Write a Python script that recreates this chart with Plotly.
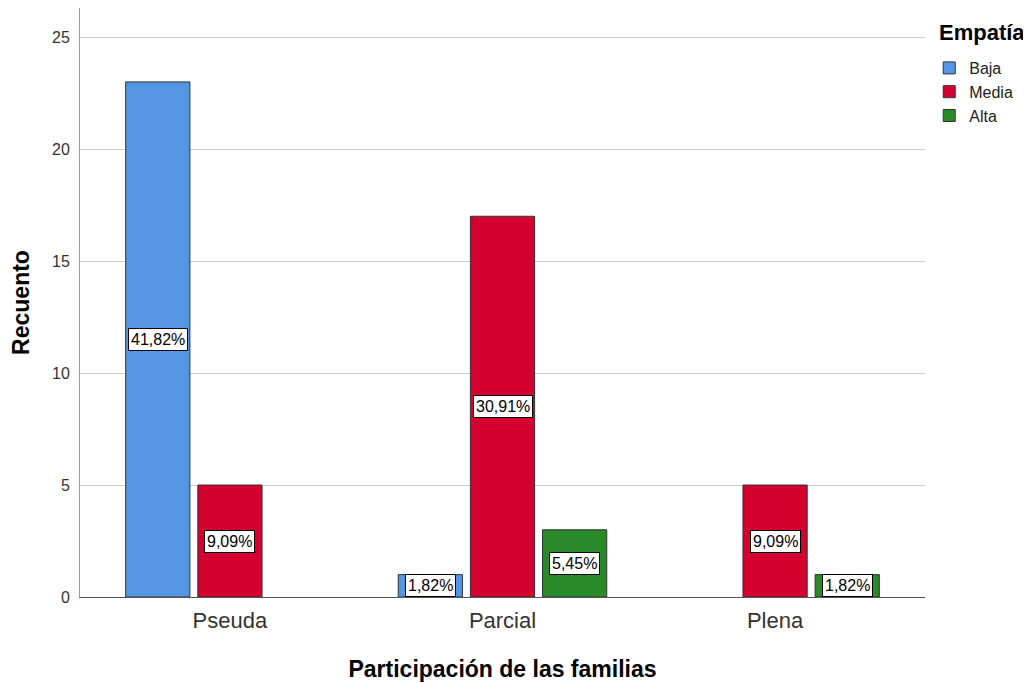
import plotly.graph_objects as go

categories = ["Pseuda", "Parcial", "Plena"]
series_names = ["Baja", "Media", "Alta"]
baja = [23, 1, 0]
media = [5, 17, 5]
alta = [0, 3, 1]
baja_pct = ["41,82%", "1,82%", ""]
media_pct = ["9,09%", "30,91%", "9,09%"]
alta_pct = ["", "5,45%", "1,82%"]
colors = ["#5596E3", "#D4002F", "#2A8A2A"]
legend_title = "Empatía"

values = [baja, media, alta]
pcts = [baja_pct, media_pct, alta_pct]
FONT = "Liberation Sans, Arial"

fig = go.Figure()
xs = list(range(len(categories)))
for name, vals, col in zip(series_names, values, colors):
    fig.add_trace(go.Bar(
        x=xs, y=[v if v > 0 else None for v in vals], name=name,
        marker=dict(color=col, line=dict(color="#333333", width=1)),
        hoverinfo="skip",
    ))

slot = (1 - 0.206) / 3
offsets = [-slot, 0, slot]
for s, (vals, labels) in enumerate(zip(values, pcts)):
    for i, (v, lab) in enumerate(zip(vals, labels)):
        if v > 0 and lab:
            fig.add_annotation(
                x=xs[i] + offsets[s], y=v / 2, xref="x", yref="y",
                text=lab, showarrow=False,
                font=dict(family=FONT, size=16, color="black"),
                bgcolor="white", bordercolor="black", borderwidth=1, borderpad=2,
            )

fig.add_annotation(
    x=1.0142, y=0.959, xref="paper", yref="paper",
    xanchor="left", yanchor="middle", showarrow=False,
    text="<b>" + legend_title + "</b>",
    font=dict(family=FONT, size=22, color="black"),
)

fig.update_layout(
    width=1023, height=675,
    margin=dict(l=72, r=106, t=0, b=86, autoexpand=False),
    paper_bgcolor="white", plot_bgcolor="white",
    barmode="group", bargap=0.206, bargroupgap=0.11,
    font=dict(family=FONT, color="#222222"),
    showlegend=True,
    legend=dict(
        x=1.005, y=0.927, xanchor="left", yanchor="top",
        font=dict(size=16, color="#222222"),
        tracegroupgap=0, itemwidth=30,
    ),
    xaxis=dict(
        range=[-0.55, 2.55],
        tickmode="array", tickvals=xs, ticktext=categories,
        tickfont=dict(size=22, color="#333333"),
        showgrid=False, showline=True, linecolor="#555555", linewidth=1,
        ticks="", zeroline=False, automargin=False, ticklabelstandoff=4,
        title=dict(text="<b>Participación de las familias</b>",
                   font=dict(size=23, color="black"), standoff=28),
    ),
    yaxis=dict(
        range=[0, 26.3],
        tickvals=[0, 5, 10, 15, 20, 25],
        tickfont=dict(size=16, color="#333333"),
        showgrid=True, gridcolor="#CCCCCC", gridwidth=1,
        showline=True, linecolor="#999999", linewidth=1,
        ticks="", zeroline=False, automargin=False, ticklabelstandoff=6,
        title=dict(text="<b>Recuento</b>", font=dict(size=23, color="black"), standoff=17),
    ),
)

fig.write_html("out.html")
